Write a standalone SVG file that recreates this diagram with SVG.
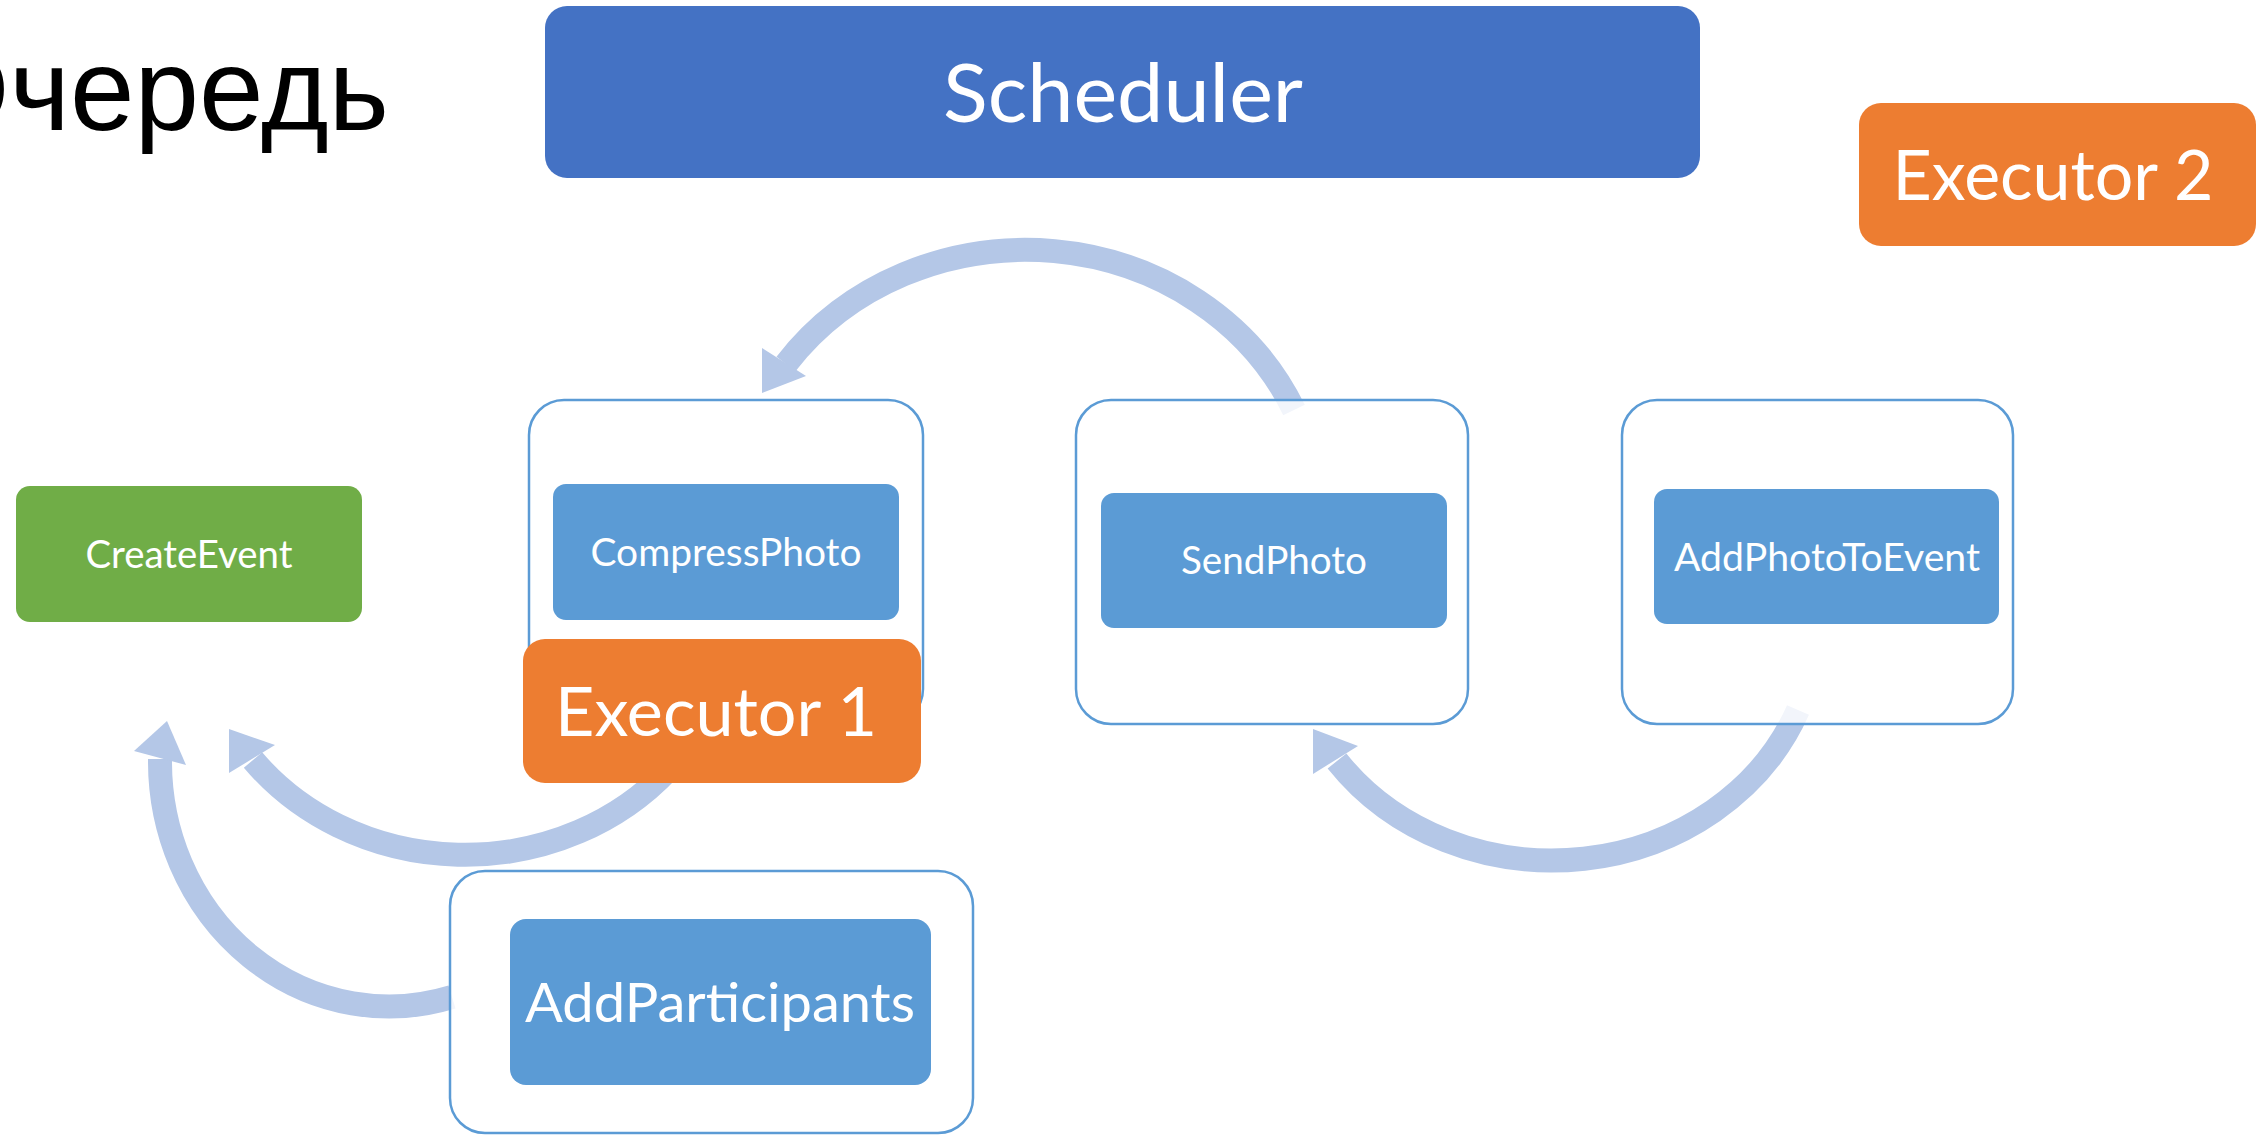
<svg xmlns="http://www.w3.org/2000/svg" width="2258" height="1137" viewBox="0 0 2258 1137">
  <style>
    .container { fill: #ffffff; fill-opacity: 0.82; stroke: #5B9BD5; stroke-width: 2.5; }
    .task { fill: #5B9BD5; }
    .start { fill: #70AD47; }
    .executor { fill: #ED7D31; }
    .scheduler { fill: #4472C4; }
    .label { font-family: Lato, "Open Sans", "Liberation Sans", sans-serif; fill: #ffffff; text-anchor: middle; }
    .arc { fill: none; stroke: #B4C7E7; stroke-width: 24; stroke-linecap: butt; }
    .head { fill: #B4C7E7; }
  </style>

  <rect width="2258" height="1137" fill="#ffffff"/>

  <!-- page title, running off the left edge of the slide -->
  <text x="389" y="130" font-family="'Liberation Sans', Arial, sans-serif" font-size="116" text-anchor="end" fill="#000000">Очередь</text>

  <!-- curved flow arrows -->
  <g id="connectors">
    <!-- SendPhoto -> CompressPhoto -->
    <path class="arc" d="M 1294,410 A 294 271 0 0 0 786,364"/>
    <polygon class="head" points="762,348 806,376 762,393"/>
    <!-- AddPhotoToEvent -> SendPhoto -->
    <path class="arc" d="M 1798,710 A 265 239.5 0 0 1 1337,761"/>
    <polygon class="head" points="1313,729 1358,746 1313,774"/>
    <!-- Executor 1 -> CreateEvent -->
    <path class="arc" d="M 668,770 A 267 242 0 0 1 253,760"/>
    <polygon class="head" points="229,729 275,745 229,773"/>
    <!-- AddParticipants -> CreateEvent -->
    <path class="arc" d="M 452,997 A 229 245 0 0 1 160,759"/>
    <polygon class="head" points="167,721 186,765 134,751"/>
  </g>

  <g id="scheduler">
    <rect class="scheduler" x="545" y="6" width="1155" height="172" rx="22"/>
    <text class="label" x="1123" y="122" font-size="82" textLength="360" lengthAdjust="spacingAndGlyphs">Scheduler</text>
  </g>

  <g id="executor-2">
    <rect class="executor" x="1859" y="103" width="397" height="143" rx="22"/>
    <text class="label" x="2053" y="200" font-size="69" textLength="321" lengthAdjust="spacingAndGlyphs">Executor 2</text>
  </g>

  <g id="create-event">
    <rect class="start" x="16" y="486" width="346" height="136" rx="14"/>
    <text class="label" x="189" y="568" font-size="39" textLength="207" lengthAdjust="spacingAndGlyphs">CreateEvent</text>
  </g>

  <g id="compress-photo">
    <rect class="container" x="529" y="400" width="394" height="324" rx="35"/>
    <rect class="task" x="553" y="484" width="346" height="136" rx="13"/>
    <text class="label" x="726" y="566" font-size="39" textLength="271" lengthAdjust="spacingAndGlyphs">CompressPhoto</text>
  </g>

  <g id="send-photo">
    <rect class="container" x="1076" y="400" width="392" height="324" rx="35"/>
    <rect class="task" x="1101" y="493" width="346" height="135" rx="13"/>
    <text class="label" x="1274" y="574" font-size="38" textLength="186" lengthAdjust="spacingAndGlyphs">SendPhoto</text>
  </g>

  <g id="add-photo-to-event">
    <rect class="container" x="1622" y="400" width="391" height="324" rx="35"/>
    <rect class="task" x="1654" y="489" width="345" height="135" rx="13"/>
    <text class="label" x="1827" y="571" font-size="38" textLength="306" lengthAdjust="spacingAndGlyphs">AddPhotoToEvent</text>
  </g>

  <g id="executor-1">
    <rect class="executor" x="523" y="639" width="398" height="144" rx="22"/>
    <text class="label" x="716" y="736" font-size="68" textLength="322" lengthAdjust="spacingAndGlyphs">Executor 1</text>
  </g>

  <g id="add-participants">
    <rect class="container" x="450" y="871" width="523" height="262" rx="35"/>
    <rect class="task" x="510" y="919" width="421" height="166" rx="16"/>
    <text class="label" x="720" y="1022" font-size="54" textLength="390" lengthAdjust="spacingAndGlyphs">AddParticipants</text>
  </g>
</svg>
